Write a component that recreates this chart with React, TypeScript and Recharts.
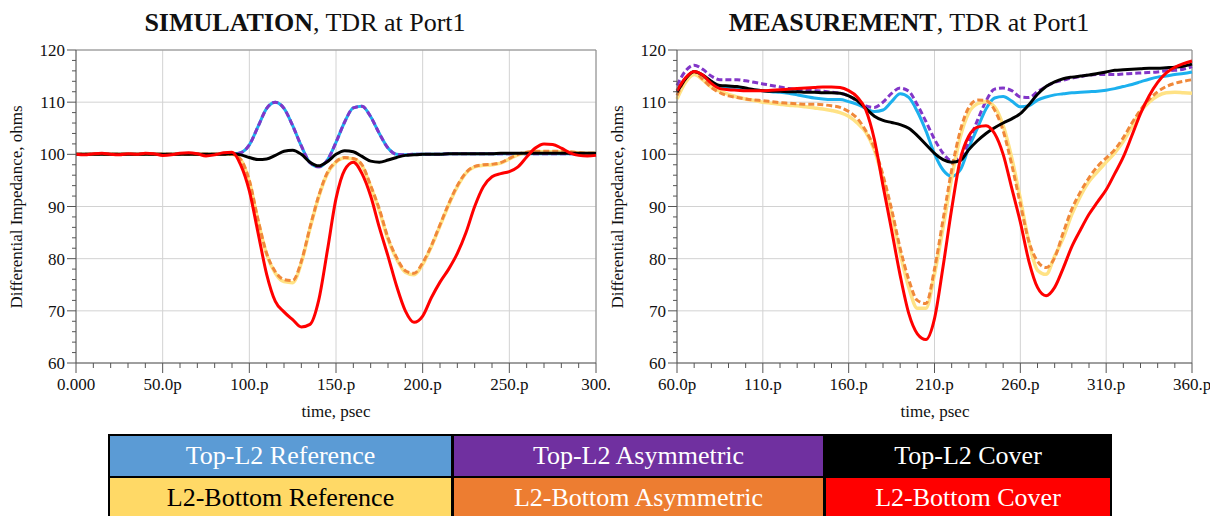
import React from 'react';
import { LineChart, Line, XAxis, YAxis, CartesianGrid, ReferenceLine } from 'recharts';

// ---- simulation (left) ----
const simTime = [
    0, 5, 10, 15, 20, 25, 30, 35, 40, 45, 50, 55, 60, 65, 70, 75, 80, 85, 90, 95,
    100, 105, 110, 115, 120, 125, 130, 135, 140, 145, 150, 155, 160, 165, 170, 175, 180, 185, 190, 195,
    200, 205, 210, 215, 220, 225, 230, 235, 240, 245, 250, 255, 260, 265, 270, 275, 280, 285, 290, 295, 300,
];
const simRef = [
    100, 100, 100, 100, 100, 100, 100, 100, 100, 100, 100, 100, 100, 100, 100, 100, 100, 100, 100, 100.3,
    101.8, 105.3, 108.8, 110, 108.8, 105.5, 101.6, 98.4, 97.6, 98.9, 102.3, 106.2, 108.9, 109.2, 107.2, 104, 101.2, 100, 99.9, 100,
    100, 100, 100, 100.1, 100.1, 100.1, 100.1, 100.1, 100.1, 100.1, 100.1, 100.1, 100.1, 100.1, 100.1, 100.1, 100.1, 100.1, 100.1, 100.1, 100.1,
];
const simAsym = [
    100, 100, 100, 100, 100, 100, 100, 100, 100, 100, 100, 100, 100, 100, 100, 100, 100, 100, 100, 100.3,
    101.8, 105.3, 108.8, 110, 108.8, 105.5, 101.6, 98.4, 97.6, 98.9, 102.3, 106.2, 108.9, 109.2, 107.2, 104, 101.2, 100, 99.9, 100,
    100, 100, 100, 100.1, 100.1, 100.1, 100.1, 100.1, 100.1, 100.1, 100.1, 100.1, 100.1, 100.1, 100.1, 100.1, 100.1, 100.1, 100.1, 100.1, 100.1,
];
const simCover = [
    100, 100, 100, 100, 100, 100, 100, 100, 100, 100, 100, 100, 100, 100, 100, 100, 100, 100, 100.1, 99.9,
    99.4, 99, 99.1, 99.8, 100.6, 100.8, 100, 98.5, 97.8, 98.6, 100, 100.7, 100.5, 99.6, 98.7, 98.5, 98.9, 99.4, 99.8, 99.9,
    100, 100, 100, 100.1, 100.1, 100.1, 100.1, 100.1, 100.1, 100.2, 100.2, 100.2, 100.2, 100.2, 100.2, 100.2, 100.2, 100.2, 100.2, 100.2, 100.2,
];
const simBRef = [
    100, 100, 100, 100, 100, 100, 100, 100, 100, 100, 100, 100, 100, 100, 100, 100, 100, 100, 100, 99,
    94.8, 87.3, 80.8, 77.2, 75.6, 75.4, 79.2, 85.8, 91.8, 96.3, 98.5, 99.3, 99.1, 97.8, 93.8, 89.2, 83.7, 79.9, 77.4, 76.9,
    78.9, 82.3, 86.3, 90.3, 93.8, 96.4, 97.6, 97.9, 98, 98.3, 99.1, 99.9, 100.3, 100.5, 100.5, 100.5, 100.5, 100.4, 100.3, 100.2, 100.2,
];
const simBAsym = [
    100, 100, 100, 100, 100, 100, 100, 100, 100, 100, 100, 100, 100, 100, 100, 100, 100, 100, 100, 99,
    95, 87.5, 81, 77.5, 76, 75.8, 79.5, 86, 92, 96.5, 98.6, 99.4, 99.2, 98, 94, 89.5, 84, 80.2, 77.7, 77.2,
    79.2, 82.5, 86.5, 90.5, 94, 96.5, 97.7, 98, 98.1, 98.4, 99.2, 100, 100.4, 100.6, 100.6, 100.6, 100.6, 100.5, 100.3, 100.2, 100.2,
];
const simBCover = [
    100, 99.9, 100.1, 100.2, 100, 99.9, 100.1, 100, 100.2, 100.1, 99.8, 99.9, 100.2, 100.3, 100.1, 99.7, 99.9, 100.3, 100.4, 98,
    93, 85, 77, 71.8, 69.8, 68.3, 66.9, 67.4, 72, 81.5, 91.5, 97, 98.5, 96.3, 92, 86, 80.5, 74.7, 70, 67.8,
    69, 72.5, 75.5, 78, 81, 85, 90, 93.8, 95.7, 96.3, 96.7, 97.6, 99.5, 101.2, 102, 101.9, 101.2, 100.3, 99.8, 99.7, 99.8,
];
const simXTicks = [0, 10, 20, 30, 40, 50, 60, 70, 80, 90, 100, 110, 120, 130, 140, 150, 160, 170, 180, 190, 200, 210, 220, 230, 240, 250, 260, 270, 280, 290, 300];
const simXMajor = [0, 50, 100, 150, 200, 250, 300];
const simXLabels = ['0.000', '50.0p', '100.p', '150.p', '200.p', '250.p', '300.'];

// ---- measurement (right) ----
const measTime = [
    60, 65, 70, 75, 80, 85, 90, 95, 100, 105, 110, 115, 120, 125, 130, 135, 140, 145, 150, 155,
    160, 165, 170, 175, 180, 185, 190, 195, 200, 205, 210, 215, 220, 225, 230, 235, 240, 245, 250, 255,
    260, 265, 270, 275, 280, 285, 290, 295, 300, 305, 310, 315, 320, 325, 330, 335, 340, 345, 350, 355, 360,
];
const measRef = [
    112.2, 114.6, 115.8, 115, 113.8, 113, 112.8, 112.6, 112.4, 112.3, 112.2, 112, 111.9, 111.7, 111.4, 111.1, 110.8, 110.6, 110.5, 110.5,
    110.1, 109.6, 108.8, 108.2, 108.5, 110.1, 111.6, 110.9, 108.2, 104.5, 100.1, 97, 95.8, 97, 101.3, 105, 108.7, 110.8, 111.1, 110.2,
    109.1, 109.3, 110.4, 111, 111.4, 111.6, 111.8, 111.9, 112, 112.1, 112.3, 112.6, 113, 113.4, 113.9, 114.4, 114.8, 115, 115.3, 115.5, 115.8,
];
const measAsym = [
    113.2, 116, 117.1, 116.3, 115, 114.3, 114.3, 114.3, 114.1, 113.8, 113.5, 113.2, 112.9, 112.6, 112.4, 112.3, 112.2, 112.1, 111.9, 111.7,
    111.2, 110.2, 109.3, 109, 110, 111.7, 112.7, 112.1, 109.5, 106.3, 102.9, 100.2, 98.8, 99.3, 102.5, 106.5, 110.2, 112.5, 112.7, 112.2,
    111, 110.9, 112, 113, 113.8, 114.2, 114.6, 114.9, 115.2, 115.3, 115.3, 115.3, 115.4, 115.5, 115.6, 115.7, 115.8, 116, 116.1, 116.3, 116.8,
];
const measCover = [
    111.9, 114.5, 115.9, 115.2, 114, 113.2, 113.1, 113, 112.7, 112.4, 112.2, 112.1, 112.1, 112, 112, 111.9, 111.9, 111.8, 111.8, 111.7,
    111.2, 110.3, 108.8, 107.3, 106.5, 106.1, 105.7, 105, 103.6, 101.9, 100.2, 99, 98.5, 98.8, 100.9, 102.6, 104, 105.1, 106, 106.8,
    107.8, 109.5, 111.5, 113, 113.9, 114.5, 114.8, 115, 115.2, 115.5, 115.8, 116.1, 116.2, 116.3, 116.4, 116.5, 116.5, 116.6, 116.7, 116.9, 117.3,
];
const measBRef = [
    110.6, 113.8, 115.3, 114.3, 112.9, 112.1, 111.5, 111, 110.6, 110.3, 110, 109.8, 109.6, 109.4, 109.3, 109.1, 108.9, 108.7, 108.4, 108,
    107.3, 106, 104.2, 100.8, 95.2, 88.5, 81, 74.5, 70.5, 70.5, 77, 86, 95.5, 103.3, 108, 109.7, 110.1, 109.1, 105.5, 99.3,
    91.5, 83.2, 77.8, 77, 80.5, 84, 88.5, 92, 94.8, 96.7, 98.5, 100.3, 102.5, 105.3, 108.2, 110, 111.2, 111.8, 111.9, 111.8, 111.7,
];
const measBAsym = [
    111.3, 114.5, 115.8, 114.4, 112.8, 111.8, 111.2, 110.9, 110.6, 110.4, 110.3, 110.1, 109.9, 109.8, 109.7, 109.6, 109.6, 109.5, 109.3, 109,
    108.2, 106.9, 104.5, 101.2, 96, 89.5, 82, 76, 72, 71.4, 78, 87.5, 97, 104.5, 109, 110.4, 110.3, 108.5, 104.5, 98,
    90.5, 83.3, 79.5, 78.3, 80.2, 85, 89.5, 92.8, 95.5, 97.7, 99.3, 100.9, 103.2, 106, 108.5, 110.5, 112, 113, 113.6, 114, 114.3,
];
const measBCover = [
    112.2, 114.7, 115.9, 115.2, 113.6, 112.6, 112.4, 112.3, 112.2, 112.2, 112.2, 112.3, 112.4, 112.5, 112.6, 112.7, 112.8, 112.9, 112.9, 112.8,
    112.2, 111, 108.5, 102.8, 94, 85.5, 76.8, 69.5, 65.6, 64.5, 68.5, 78.5, 89.5, 99, 103.5, 105.2, 105.5, 104, 100, 93.5,
    87, 79.5, 74.5, 72.9, 74.5, 78.2, 82.3, 85.5, 88.5, 90.9, 93.2, 96.3, 99.5, 103.6, 107.8, 111.2, 113.8, 115.6, 116.7, 117.4, 117.9,
];
const measXTicks = [60, 70, 80, 90, 100, 110, 120, 130, 140, 150, 160, 170, 180, 190, 200, 210, 220, 230, 240, 250, 260, 270, 280, 290, 300, 310, 320, 330, 340, 350, 360];
const measXMajor = [60, 110, 160, 210, 260, 310, 360];
const measXLabels = ['60.0p', '110.p', '160.p', '210.p', '260.p', '310.p', '360.p'];

const yTicks = [60, 62, 64, 66, 68, 70, 72, 74, 76, 78, 80, 82, 84, 86, 88, 90, 92, 94, 96, 98, 100, 102, 104, 106, 108, 110, 112, 114, 116, 118, 120];
const yMajor = [60, 70, 80, 90, 100, 110, 120];

const legendRows = [
    ['Top-L2 Reference', 'Top-L2 Asymmetric', 'Top-L2 Cover'],
    ['L2-Bottom Reference', 'L2-Bottom Asymmetric', 'L2-Bottom Cover'],
];
const legendFills = [
    ['#5B9BD5', '#7030A0', '#000000'],
    ['#FFD966', '#ED7D31', '#FF0000'],
];
const legendText = [
    ['#ffffff', '#ffffff', '#ffffff'],
    ['#000000', '#ffffff', '#ffffff'],
];

const FONT = '"Liberation Serif", "Times New Roman", serif';
const AXIS = '#555';

const XTick = ({ x, y, payload, majors, labels }: any) => {
    const i = majors.indexOf(payload.value);
    return (
        <g>
            <line x1={x} x2={x} y1={y} y2={y + (i >= 0 ? 10 : 5)} stroke={AXIS} />
            {i >= 0 && (
                <text x={x} y={y + 27} textAnchor="middle" fontSize={17} fontFamily={FONT} fill="#111">
                    {labels[i]}
                </text>
            )}
        </g>
    );
};

const YTick = ({ x, y, payload }: any) => {
    const major = yMajor.includes(payload.value);
    return (
        <g>
            <line x1={x} x2={x - (major ? 9 : 4)} y1={y} y2={y} stroke={AXIS} />
            {major && (
                <text x={x - 11} y={y + 6} textAnchor="end" fontSize={17} fontFamily={FONT} fill="#111">
                    {payload.value}
                </text>
            )}
        </g>
    );
};

interface PanelProps {
    time: number[];
    series: number[][];
    xTicks: number[];
    xMajor: number[];
    xLabels: string[];
    yAxisWidth: number;
    rightMargin: number;
}

const Panel: React.FC<PanelProps> = ({ time, series, xTicks, xMajor, xLabels, yAxisWidth, rightMargin }) => {
    const data = time.map((t, i) => ({
        t,
        ref: series[0][i],
        asym: series[1][i],
        cover: series[2][i],
        bref: series[3][i],
        basym: series[4][i],
        bcover: series[5][i],
    }));
    const xMin = xMajor[0];
    const xMax = xMajor[xMajor.length - 1];
    return (
        <LineChart width={610} height={440} data={data} margin={{ top: 50, right: rightMargin, left: 0, bottom: 47 }}>
            <CartesianGrid stroke="#d2d2d2" horizontalValues={yMajor} verticalValues={xMajor} />
            <ReferenceLine y={120} stroke="#8a8a8a" />
            <ReferenceLine x={xMax} stroke="#8a8a8a" />
            <XAxis
                dataKey="t"
                type="number"
                domain={[xMin, xMax]}
                ticks={xTicks}
                interval={0}
                height={30}
                tickSize={0}
                tickMargin={0}
                tickLine={false}
                axisLine={{ stroke: AXIS }}
                tick={(p: any) => <XTick {...p} majors={xMajor} labels={xLabels} />}
            />
            <YAxis
                type="number"
                domain={[60, 120]}
                ticks={yTicks}
                interval={0}
                width={yAxisWidth}
                tickSize={0}
                tickMargin={0}
                tickLine={false}
                axisLine={{ stroke: AXIS }}
                tick={(p: any) => <YTick {...p} />}
            />
            <Line dataKey="ref" type="monotone" stroke="#1CB0EE" strokeWidth={3} dot={false} isAnimationActive={false} />
            <Line dataKey="asym" type="monotone" stroke="#8236C8" strokeWidth={3} strokeDasharray="6 3" dot={false} isAnimationActive={false} />
            <Line dataKey="bref" type="monotone" stroke="#FFE285" strokeWidth={3.5} dot={false} isAnimationActive={false} />
            <Line dataKey="basym" type="monotone" stroke="#F0883A" strokeWidth={3} strokeDasharray="6 3" dot={false} isAnimationActive={false} />
            <Line dataKey="cover" type="monotone" stroke="#000000" strokeWidth={3} dot={false} isAnimationActive={false} />
            <Line dataKey="bcover" type="monotone" stroke="#FF0000" strokeWidth={3} dot={false} isAnimationActive={false} />
        </LineChart>
    );
};

const Title = ({ left, bold, rest }: { left: number; bold: string; rest: string }) => (
    <div style={{ position: 'absolute', left, top: 10, width: 610, textAlign: 'center', fontSize: 26, lineHeight: '26px', whiteSpace: 'nowrap' }}>
        <b>{bold}</b>
        {rest}
    </div>
);

const YLabel = ({ cx }: { cx: number }) => (
    <div
        style={{
            position: 'absolute',
            left: cx - 160,
            top: 207 - 10,
            width: 320,
            height: 20,
            lineHeight: '20px',
            fontSize: 17,
            textAlign: 'center',
            transform: 'rotate(-90deg)',
            whiteSpace: 'nowrap',
        }}
    >
        Differential Impedance, ohms
    </div>
);

const XLabel = ({ cx }: { cx: number }) => (
    <div style={{ position: 'absolute', left: cx - 100, top: 402, width: 200, lineHeight: '20px', fontSize: 17, textAlign: 'center' }}>
        time, psec
    </div>
);

const colLeft = [2, 346, 718];
const colWidth = [341, 369, 284];

const App = () => (
    <div style={{ position: 'absolute', left: 0, top: 0, width: 1219, height: 516, overflow: 'hidden', background: '#fff', fontFamily: FONT, color: '#111' }}>
        <Title left={0} bold="SIMULATION" rest=", TDR at Port1" />
        <Title left={604} bold="MEASUREMENT" rest=", TDR at Port1" />
        <div style={{ position: 'absolute', left: 0, top: 0 }}>
            <Panel
                time={simTime}
                series={[simRef, simAsym, simCover, simBRef, simBAsym, simBCover]}
                xTicks={simXTicks}
                xMajor={simXMajor}
                xLabels={simXLabels}
                yAxisWidth={76}
                rightMargin={14}
            />
        </div>
        <div style={{ position: 'absolute', left: 600, top: 0 }}>
            <Panel
                time={measTime}
                series={[measRef, measAsym, measCover, measBRef, measBAsym, measBCover]}
                xTicks={measXTicks}
                xMajor={measXMajor}
                xLabels={measXLabels}
                yAxisWidth={77}
                rightMargin={18}
            />
        </div>
        <YLabel cx={17} />
        <YLabel cx={618} />
        <XLabel cx={336} />
        <XLabel cx={935} />
        <div style={{ position: 'absolute', left: 108, top: 434, width: 1004, height: 86, background: '#000' }}>
            {legendRows.map((row, r) =>
                row.map((txt, c) => (
                    <div
                        key={txt}
                        style={{
                            position: 'absolute',
                            left: colLeft[c],
                            top: r === 0 ? 2 : 44,
                            width: colWidth[c],
                            height: 40,
                            lineHeight: '40px',
                            background: legendFills[r][c],
                            color: legendText[r][c],
                            fontSize: 26,
                            textAlign: 'center',
                            whiteSpace: 'nowrap',
                        }}
                    >
                        {txt}
                    </div>
                ))
            )}
        </div>
    </div>
);

export default App;
